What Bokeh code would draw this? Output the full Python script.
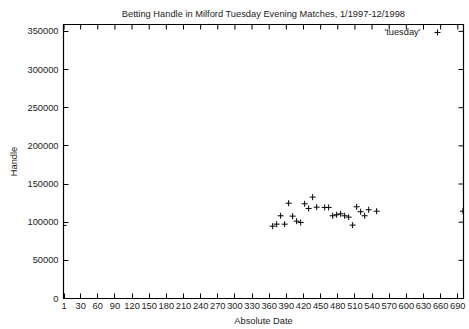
import math
from bokeh.plotting import figure
from bokeh.models import FixedTicker, BasicTickFormatter, Label, Range1d
from bokeh.embed import file_html
from bokeh.resources import INLINE

# Weekly betting handle, Tuesday evening cards (day number since 1/1/1997)
days = [0, 366, 373, 380, 387, 394, 401, 408, 415, 422, 429, 436, 443,
        457, 464, 471, 478, 485, 492, 499, 506, 513, 520, 527, 534, 548, 699]
handle = [95700, 94800, 97400, 108400, 97400, 124900, 107900, 101300, 99600,
          124100, 118000, 132800, 119700, 119300, 119300, 108400, 109700,
          111000, 108400, 106600, 96100, 120200, 113700, 108400, 116300,
          114400, 114400]

x_ticks = [1] + list(range(30, 691, 30))
y_ticks = list(range(0, 350001, 50000))
series_name = "'tuesday'"

X_MIN, X_MAX = 0, 700
Y_MIN, Y_MAX = 0, 359000

FONT = "Liberation Sans"
FS = "9.3px"
TICK = 5

p = figure(width=469, height=329, output_backend="svg", toolbar_location=None,
           x_range=Range1d(X_MIN, X_MAX), y_range=Range1d(Y_MIN, Y_MAX),
           min_border_left=63, min_border_right=6, min_border_top=24,
           min_border_bottom=31, background_fill_color="white",
           border_fill_color="white")

p.title.text = "Betting Handle in Milford Tuesday Evening Matches, 1/1997-12/1998"
p.title.align = "center"
p.title.vertical_align = "middle"
p.title.text_font = FONT
p.title.text_font_size = FS
p.title.text_font_style = "normal"
p.title.text_color = "#222222"
p.title.standoff = 10

p.grid.visible = False
p.outline_line_color = "black"
p.outline_line_width = 1.2


def style_axis(ax, ticks):
    ax.ticker = FixedTicker(ticks=ticks)
    ax.major_tick_in = TICK
    ax.major_tick_out = 0
    ax.minor_tick_in = 0
    ax.minor_tick_out = 0
    ax.major_tick_line_color = "black"
    ax.axis_line_color = "black"
    ax.major_label_text_font = FONT
    ax.major_label_text_font_size = FS
    ax.major_label_text_color = "#222222"
    ax.axis_label_text_font = FONT
    ax.axis_label_text_font_size = FS
    ax.axis_label_text_font_style = "normal"
    ax.axis_label_text_color = "#222222"


xa = p.xaxis[0]
style_axis(xa, x_ticks)
xa.axis_label = "Absolute Date"
xa.major_label_standoff = 4
xa.axis_label_standoff = 4

ya = p.yaxis[0]
style_axis(ya, y_ticks)
ya.formatter = BasicTickFormatter(use_scientific=False)
ya.axis_label = "Handle"
ya.major_label_standoff = 5
ya.axis_label_standoff = 5
ya.major_label_orientation = "horizontal"

# mirrored tick marks along the top and right edges of the frame
p.ray(x=x_ticks, y=[Y_MAX] * len(x_ticks), length=TICK, length_units="screen",
      angle=-math.pi / 2, line_color="black", line_width=1)
p.ray(x=[X_MAX] * len(y_ticks), y=y_ticks, length=TICK, length_units="screen",
      angle=math.pi, line_color="black", line_width=1)

p.scatter(days, handle, marker="cross", size=6, line_color="black", line_width=1)

# key in the top right corner: name followed by the point sample
key_x = X_MAX - 0.065 * (X_MAX - X_MIN)
key_y = Y_MAX - 0.029 * (Y_MAX - Y_MIN)
p.scatter([key_x], [key_y], marker="cross", size=6, line_color="black", line_width=1)
p.add_layout(Label(x=key_x, y=key_y, text=series_name, x_offset=-17,
                   text_align="right", text_baseline="middle",
                   text_font=FONT, text_font_size=FS, text_color="#222222"))

open("out.html", "w").write(file_html(p, INLINE))
